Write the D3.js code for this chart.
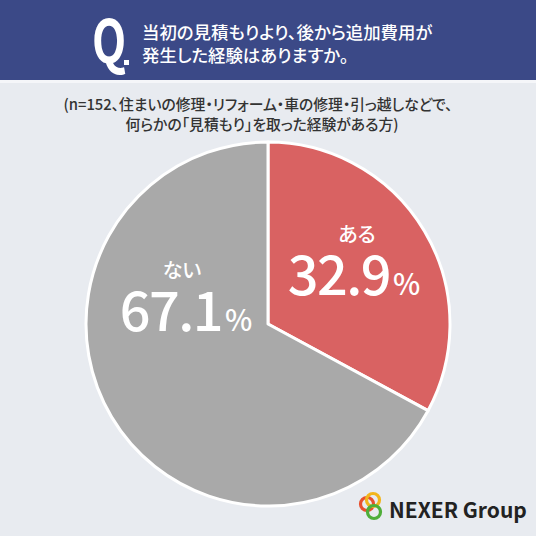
<!DOCTYPE html>
<html>
<head>
<meta charset="utf-8">
<script src="https://cdn.jsdelivr.net/npm/d3@7"></script>
<style>
  html, body { margin: 0; padding: 0; background: #e8ebf0; }
  svg { display: block; }
  text { font-family: "Noto Sans CJK JP", "Noto Sans", sans-serif; font-feature-settings: "palt"; }
</style>
</head>
<body>
<div id="chart"></div>
<script>
// data
const categories = ["ある", "ない"];
const values = [32.9, 67.1];
const sliceColors = ["#d96262", "#a9a9a9"];
const questionLines = ["当初の見積もりより、後から追加費用が", "発生した経験はありますか。"];
const noteLines = ["(n=152、住まいの修理・リフォーム・車の修理・引っ越しなどで、", "何らかの「見積もり」を取った経験がある方)"];

(function() {
    const width = 536;
    const height = 536;

    const svg = d3.select("#chart")
        .append("svg")
        .attr("width", width)
        .attr("height", height);

    svg.append("rect").attr("width", width).attr("height", height).attr("fill", "#e8ebf0");

    // header band
    svg.append("rect").attr("width", width).attr("height", 80).attr("fill", "#3b4987");
    svg.append("rect").attr("y", 80).attr("width", width).attr("height", 3).attr("fill", "#f5f6f9");

    svg.append("text")
        .attr("transform", "translate(92,63) scale(0.74,1)")
        .attr("fill", "#ffffff")
        .attr("font-size", 60)
        .attr("font-weight", 700)
        .attr("font-family", "'Noto Sans', sans-serif")
        .text("Q");
    svg.append("rect")
        .attr("x", 124).attr("y", 60).attr("width", 5).attr("height", 5)
        .attr("fill", "#ffffff");

    svg.append("g").selectAll("text")
        .data(questionLines)
        .join("text")
        .attr("x", 142)
        .attr("y", (d, i) => 39 + i * 23)
        .attr("fill", "#ffffff")
        .attr("font-size", 17.4)
        .attr("font-weight", 500)
        .text(d => d);

    svg.append("g").selectAll("text")
        .data(noteLines)
        .join("text")
        .attr("x", (d, i) => i === 0 ? 258 : 262)
        .attr("y", (d, i) => 110 + i * 20)
        .attr("text-anchor", "middle")
        .attr("fill", "#333333")
        .attr("font-size", 14.8)
        .attr("font-weight", 500)
        .text(d => d);

    // pie
    const cx = 268, cy = 324, radius = 182;
    const pie = d3.pie().sort(null).value(d => d);
    const arc = d3.arc().innerRadius(0).outerRadius(radius);
    const arcs = pie(values);

    const pie_grp = svg.append("g").attr("transform", `translate(${cx},${cy})`);
    pie_grp.selectAll("path")
        .data(arcs)
        .join("path")
        .attr("d", arc)
        .attr("fill", (d, i) => sliceColors[i])
        .attr("stroke", "#ffffff")
        .attr("stroke-width", 3)
        .attr("stroke-linejoin", "round");

    // label spots, relative to pie centre
    const labelPos = [[86, 0], [-82, 36]];
    const labels = pie_grp.selectAll("g.label")
        .data(arcs)
        .join("g")
        .attr("class", "label")
        .attr("transform", (d, i) => `translate(${labelPos[i][0]},${labelPos[i][1]})`);

    labels.append("text")
        .attr("x", (d, i) => i === 0 ? 3 : -4)
        .attr("y", -82)
        .attr("text-anchor", "middle")
        .attr("fill", "#ffffff")
        .attr("font-size", 20)
        .attr("font-weight", 500)
        .text((d, i) => categories[i]);

    const pct = labels.append("text")
        .attr("y", -29)
        .attr("text-anchor", "middle")
        .attr("fill", "#ffffff")
        .attr("font-weight", 500);
    pct.append("tspan")
        .attr("font-size", 54)
        .attr("letter-spacing", -1.5)
        .text((d, i) => values[i].toFixed(1));
    pct.append("tspan")
        .attr("font-size", 29)
        .attr("dx", 3)
        .text("%");

    // logo
    const logo = svg.append("g").attr("transform", "translate(355,490)");
    const rings = [[10, 12, "#e8502e"], [16, 8, "#f2b51c"], [17, 20, "#4fae3a"]];
    logo.selectAll("circle")
        .data(rings)
        .join("circle")
        .attr("cx", d => d[0] + 2)
        .attr("cy", d => d[1] + 2)
        .attr("r", 6.5)
        .attr("fill", "none")
        .attr("stroke", d => d[2])
        .attr("stroke-width", 3.2);
    logo.append("text")
        .attr("x", 34)
        .attr("y", 28)
        .attr("fill", "#222222")
        .attr("font-size", 21)
        .attr("font-weight", 700)
        .attr("font-family", "'Noto Sans', sans-serif")
        .text("NEXER Group");
})();
</script>
</body>
</html>
